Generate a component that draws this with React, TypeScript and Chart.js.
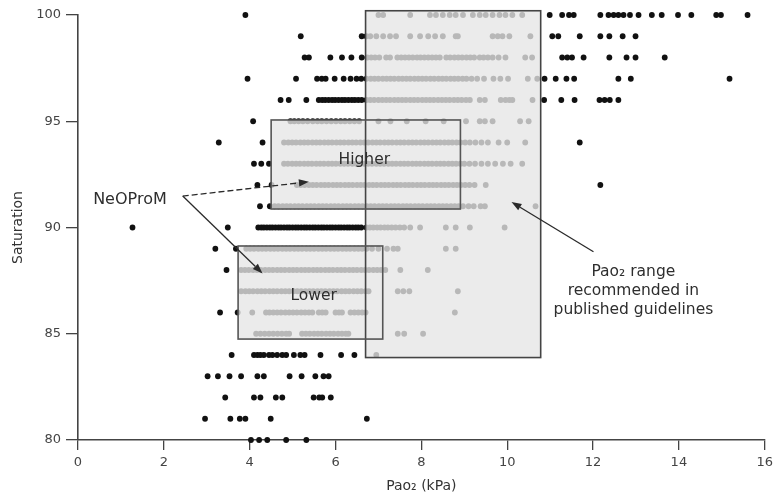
import React, { useEffect, useRef } from "react";
import { Chart, registerables } from "chart.js";

Chart.register(...registerables);

// ---- data: PaO2 (kPa) readings at each saturation level (%) ----
const saturationLevels = [100, 99, 98, 97, 96, 95, 94, 93, 92, 91, 90, 89, 88, 87, 86, 85, 84, 83, 82, 81, 80];

const sat100 = [3.9, 7.0, 7.11, 7.74, 8.2, 8.34, 8.5, 8.66, 8.8, 8.97, 9.2, 9.36, 9.5, 9.66, 9.82, 9.96, 10.12, 10.35, 10.99, 11.28, 11.44, 11.55, 12.17, 12.36, 12.48, 12.59, 12.71, 12.86, 13.06, 13.37, 13.6, 13.98, 14.29, 14.87, 14.98, 15.6];
const sat99 = [5.19, 6.61, 6.72, 6.81, 6.95, 7.11, 7.27, 7.41, 7.74, 7.97, 8.16, 8.32, 8.5, 8.8, 8.85, 9.66, 9.78, 9.89, 10.05, 10.54, 11.05, 11.19, 11.69, 12.17, 12.38, 12.69, 12.99];
const sat98 = [5.28, 5.38, 5.88, 6.15, 6.37, 6.61, 6.74, 6.83, 6.92, 7.02, 7.18, 7.27, 7.44, 7.53, 7.62, 7.71, 7.8, 7.9, 7.98, 8.07, 8.16, 8.25, 8.34, 8.43, 8.58, 8.67, 8.77, 8.86, 8.95, 9.05, 9.14, 9.23, 9.36, 9.45, 9.55, 9.66, 9.8, 9.96, 10.42, 10.58, 11.28, 11.4, 11.51, 11.78, 12.38, 12.78, 12.99, 13.67];
const sat97 = [3.95, 5.08, 5.57, 5.68, 5.77, 5.98, 6.19, 6.35, 6.49, 6.6, 6.72, 6.82, 6.91, 7.0, 7.1, 7.19, 7.28, 7.37, 7.47, 7.56, 7.65, 7.74, 7.84, 7.93, 8.02, 8.11, 8.21, 8.3, 8.4, 8.49, 8.58, 8.68, 8.77, 8.86, 8.96, 9.05, 9.17, 9.3, 9.46, 9.68, 9.84, 10.02, 10.48, 10.7, 10.87, 11.13, 11.38, 11.56, 12.59, 12.88, 15.18];
const sat96 = [4.72, 4.91, 5.32, 5.61, 5.69, 5.76, 5.84, 5.92, 5.99, 6.07, 6.15, 6.22, 6.3, 6.38, 6.45, 6.53, 6.61, 6.72, 6.81, 6.9, 7.0, 7.09, 7.18, 7.27, 7.37, 7.46, 7.55, 7.64, 7.74, 7.83, 7.92, 8.02, 8.11, 8.2, 8.29, 8.39, 8.48, 8.57, 8.66, 8.76, 8.85, 8.94, 9.04, 9.13, 9.36, 9.48, 9.85, 9.96, 10.05, 10.12, 10.59, 10.86, 11.26, 11.57, 12.15, 12.27, 12.39, 12.59];
const sat95 = [4.08, 4.95, 5.04, 5.14, 5.24, 5.35, 5.47, 5.58, 5.68, 5.79, 5.9, 6.01, 6.12, 6.22, 6.33, 6.44, 6.55, 7.0, 7.28, 7.66, 8.1, 8.52, 9.04, 9.36, 9.48, 9.66, 10.3, 10.5];
const sat94 = [3.28, 4.3, 4.8, 4.9, 4.99, 5.08, 5.18, 5.27, 5.36, 5.46, 5.55, 5.64, 5.74, 5.83, 5.92, 6.02, 6.11, 6.2, 6.3, 6.39, 6.48, 6.58, 6.67, 6.76, 6.86, 6.95, 7.04, 7.14, 7.23, 7.32, 7.42, 7.51, 7.6, 7.7, 7.79, 7.88, 7.98, 8.07, 8.16, 8.26, 8.35, 8.44, 8.54, 8.63, 8.72, 8.82, 8.91, 9.02, 9.13, 9.26, 9.4, 9.55, 9.8, 10.0, 10.42, 11.69];
const sat93 = [4.1, 4.27, 4.45, 4.8, 4.89, 4.99, 5.08, 5.17, 5.27, 5.36, 5.45, 5.55, 5.64, 5.73, 5.83, 5.92, 6.01, 6.11, 6.2, 6.29, 6.39, 6.48, 6.57, 6.67, 6.76, 6.85, 6.95, 7.04, 7.13, 7.23, 7.32, 7.41, 7.51, 7.6, 7.69, 7.79, 7.88, 7.97, 8.07, 8.16, 8.25, 8.35, 8.44, 8.53, 8.63, 8.72, 8.81, 8.91, 9.0, 9.12, 9.25, 9.4, 9.55, 9.72, 9.9, 10.08, 10.35];
const sat92 = [4.18, 4.51, 5.1, 5.19, 5.28, 5.38, 5.47, 5.56, 5.66, 5.75, 5.84, 5.94, 6.03, 6.12, 6.22, 6.31, 6.4, 6.5, 6.59, 6.68, 6.78, 6.87, 6.96, 7.06, 7.15, 7.24, 7.34, 7.43, 7.52, 7.62, 7.71, 7.8, 7.9, 7.99, 8.08, 8.18, 8.27, 8.36, 8.46, 8.55, 8.64, 8.74, 8.83, 8.92, 9.02, 9.12, 9.24, 9.5, 12.17];
const sat91 = [4.24, 4.47, 4.58, 4.67, 4.77, 4.86, 4.95, 5.05, 5.14, 5.23, 5.33, 5.42, 5.51, 5.61, 5.7, 5.79, 5.89, 5.98, 6.07, 6.17, 6.26, 6.35, 6.45, 6.54, 6.63, 6.73, 6.82, 6.91, 7.01, 7.1, 7.19, 7.29, 7.38, 7.47, 7.57, 7.66, 7.75, 7.85, 7.94, 8.03, 8.13, 8.22, 8.31, 8.41, 8.5, 8.59, 8.69, 8.78, 8.87, 8.97, 9.1, 9.22, 9.38, 9.48, 10.66];
const sat90 = [1.27, 3.49, 4.2, 4.27, 4.33, 4.4, 4.47, 4.53, 4.6, 4.67, 4.73, 4.8, 4.87, 4.93, 5.0, 5.07, 5.13, 5.2, 5.27, 5.33, 5.4, 5.47, 5.53, 5.6, 5.67, 5.73, 5.8, 5.87, 5.93, 6.0, 6.07, 6.13, 6.2, 6.27, 6.33, 6.4, 6.47, 6.53, 6.6, 6.72, 6.8, 6.88, 6.97, 7.05, 7.14, 7.22, 7.31, 7.4, 7.5, 7.6, 7.74, 7.97, 8.57, 8.8, 9.13, 9.94];
const sat89 = [3.2, 3.68, 3.92, 4.01, 4.1, 4.2, 4.29, 4.38, 4.48, 4.57, 4.66, 4.76, 4.85, 4.94, 5.04, 5.13, 5.22, 5.32, 5.41, 5.5, 5.6, 5.69, 5.78, 5.88, 5.97, 6.06, 6.16, 6.25, 6.34, 6.44, 6.53, 6.62, 6.72, 6.85, 7.0, 7.2, 7.35, 7.45, 8.57, 8.8];
const sat88 = [3.46, 3.8, 3.89, 3.98, 4.08, 4.17, 4.26, 4.36, 4.45, 4.54, 4.64, 4.73, 4.82, 4.92, 5.01, 5.1, 5.2, 5.29, 5.38, 5.48, 5.57, 5.66, 5.76, 5.85, 5.94, 6.04, 6.13, 6.22, 6.32, 6.41, 6.5, 6.6, 6.69, 6.78, 6.88, 6.97, 7.06, 7.16, 7.51, 8.15];
const sat87 = [3.8, 3.9, 3.99, 4.08, 4.18, 4.27, 4.36, 4.46, 4.55, 4.64, 4.74, 4.83, 4.92, 5.02, 5.11, 5.2, 5.3, 5.39, 5.48, 5.58, 5.67, 5.76, 5.86, 5.95, 6.04, 6.14, 6.23, 6.32, 6.42, 6.51, 6.6, 6.7, 6.77, 7.45, 7.58, 7.72, 8.85];
const sat86 = [3.31, 3.72, 4.06, 4.38, 4.46, 4.55, 4.64, 4.73, 4.83, 4.92, 5.01, 5.1, 5.2, 5.29, 5.38, 5.46, 5.61, 5.69, 5.77, 6.0, 6.08, 6.15, 6.35, 6.44, 6.53, 6.62, 6.7, 8.78];
const sat85 = [4.15, 4.25, 4.35, 4.45, 4.55, 4.65, 4.75, 4.85, 4.92, 5.22, 5.31, 5.4, 5.5, 5.59, 5.68, 5.78, 5.87, 5.96, 6.06, 6.15, 6.24, 6.3, 7.45, 7.6, 8.04];
const sat84 = [3.58, 4.1, 4.18, 4.25, 4.33, 4.45, 4.53, 4.64, 4.76, 4.85, 5.03, 5.18, 5.28, 5.65, 6.13, 6.44, 6.95];
const sat83 = [3.02, 3.26, 3.53, 3.8, 4.18, 4.33, 4.93, 5.21, 5.53, 5.72, 5.84];
const sat82 = [3.43, 4.1, 4.25, 4.61, 4.76, 5.49, 5.62, 5.69, 5.89];
const sat81 = [2.96, 3.55, 3.77, 3.9, 4.49, 6.73];
const sat80 = [4.03, 4.22, 4.41, 4.85, 5.32];

const pao2ByLevel = [sat100, sat99, sat98, sat97, sat96, sat95, sat94, sat93, sat92, sat91, sat90, sat89, sat88, sat87, sat86, sat85, sat84, sat83, sat82, sat81, sat80];

// axis ticks
const xTickValues = [0, 2, 4, 6, 8, 10, 12, 14, 16];
const yTickValues = [80, 85, 90, 95, 100];

// target ranges (PaO2 kPa, saturation %)
const guidelinePao2 = [6.7, 10.78];
const guidelineSat = [83.88, 100.2];
const higherPao2 = [4.5, 8.91];
const higherSat = [90.87, 95.06];
const lowerPao2 = [3.73, 7.1];
const lowerSat = [84.75, 89.13];

const FONT = "'DejaVu Sans', 'Liberation Sans', Arial, sans-serif";

function arrow(ctx: CanvasRenderingContext2D, x1: number, y1: number, x2: number, y2: number, dash: number[] | null) {
  const ang = Math.atan2(y2 - y1, x2 - x1);
  const hl = 10, hw = 3.6;
  const bx = x2 - hl * Math.cos(ang), by = y2 - hl * Math.sin(ang);
  ctx.save();
  ctx.strokeStyle = "#2a2a2a";
  ctx.fillStyle = "#2a2a2a";
  ctx.lineWidth = 1.3;
  if (dash) ctx.setLineDash(dash);
  ctx.beginPath();
  ctx.moveTo(x1, y1);
  ctx.lineTo(bx, by);
  ctx.stroke();
  ctx.setLineDash([]);
  ctx.beginPath();
  ctx.moveTo(x2, y2);
  ctx.lineTo(bx - hw * Math.sin(ang), by + hw * Math.cos(ang));
  ctx.lineTo(bx + hw * Math.sin(ang), by - hw * Math.cos(ang));
  ctx.closePath();
  ctx.fill();
  ctx.restore();
}

const overlayPlugin = {
  id: "rangeOverlays",
  afterDatasetsDraw(chart: any) {
    const { ctx } = chart;
    const xs = chart.scales.x;
    const ys = chart.scales.y;
    const px = (v: number) => xs.getPixelForValue(v);
    const py = (v: number) => ys.getPixelForValue(v);
    const boxes = [
      [guidelinePao2, guidelineSat],
      [higherPao2, higherSat],
      [lowerPao2, lowerSat],
    ];
    ctx.save();
    ctx.beginPath();
    boxes.forEach(([bx, by]) => {
      const l = px(bx[0]), r = px(bx[1]), t = py(by[1]), b = py(by[0]);
      ctx.rect(l, t, r - l, b - t);
    });
    ctx.fillStyle = "rgba(229,229,229,0.79)";
    ctx.fill("nonzero");
    ctx.lineWidth = 1.6;
    boxes.forEach(([bx, by], i) => {
      const l = px(bx[0]), r = px(bx[1]), t = py(by[1]), b = py(by[0]);
      ctx.strokeStyle = i === 0 ? "#444" : "#555";
      ctx.strokeRect(l, t, r - l, b - t);
    });

    // labels
    ctx.fillStyle = "#2e2e2e";
    ctx.textAlign = "center";
    ctx.textBaseline = "middle";
    ctx.font = `15.5px ${FONT}`;
    ctx.fillText("Higher", px(6.67), py(93.2));
    ctx.fillText("Lower", px(5.49), py(86.8));
    ctx.font = `16px ${FONT}`;
    ctx.fillText("NeOProM", px(1.21), py(91.3));
    ctx.font = `15.5px ${FONT}`;
    ctx.fillText("Pao\u2082 range", px(12.94), py(87.9));
    ctx.fillText("recommended in", px(12.94), py(87.02));
    ctx.fillText("published guidelines", px(12.94), py(86.1));

    // arrows
    arrow(ctx, px(2.44), py(91.48), px(5.38), py(92.15), [6, 3]);
    arrow(ctx, px(2.44), py(91.48), px(4.3), py(87.84), null);
    arrow(ctx, px(12.01), py(88.86), px(10.1), py(91.2), null);
    ctx.restore();
  },
};

export default function App() {
  const canvasRef = useRef<HTMLCanvasElement | null>(null);

  useEffect(() => {
    const points: { x: number; y: number }[] = [];
    saturationLevels.forEach((s, i) => {
      pao2ByLevel[i].forEach((p) => points.push({ x: p, y: s }));
    });

    const tickFont = { family: FONT, size: 13 };
    const chart = new Chart(canvasRef.current as HTMLCanvasElement, {
      type: "scatter",
      data: {
        datasets: [
          {
            data: points,
            pointRadius: 2.9,
            pointBackgroundColor: "#111",
            pointBorderWidth: 0,
            clip: false as any,
          },
        ],
      },
      options: {
        responsive: false,
        animation: false,
        events: [],
        layout: { padding: { top: 15, right: 9, left: 0, bottom: 0 } },
        plugins: { legend: { display: false }, tooltip: { enabled: false } },
        scales: {
          x: {
            type: "linear",
            min: 0,
            max: 16,
            afterBuildTicks: (s: any) => {
              s.ticks = xTickValues.map((v) => ({ value: v }));
            },
            afterFit: (s: any) => {
              s.height = 53;
            },
            ticks: { color: "#444", font: tickFont, padding: 5 },
            grid: { drawOnChartArea: false, drawTicks: true, tickLength: 10, color: "#444", lineWidth: 1.3 },
            border: { display: true, color: "#444", width: 1.6 },
            title: {
              display: true,
              text: "Pao\u2082 (kPa)",
              color: "#333",
              font: { family: FONT, size: 14 },
              padding: { top: 0, bottom: -2 },
            },
          },
          y: {
            type: "linear",
            min: 80,
            max: 100,
            afterBuildTicks: (s: any) => {
              s.ticks = yTickValues.map((v) => ({ value: v }));
            },
            afterFit: (s: any) => {
              s.width = 78;
            },
            ticks: { color: "#444", font: tickFont, padding: 5 },
            grid: { drawOnChartArea: false, drawTicks: true, tickLength: 12, color: "#444", lineWidth: 1.3 },
            border: { display: true, color: "#444", width: 1.6 },
            title: {
              display: true,
              text: "Saturation",
              color: "#333",
              font: { family: FONT, size: 14 },
              padding: { top: 10, bottom: 0 },
            },
          },
        },
      },
      plugins: [overlayPlugin],
    });
    return () => chart.destroy();
  }, []);

  return (
    <div style={{ position: "absolute", left: 0, top: 0, width: 778, height: 493, background: "#fff" }}>
      <canvas ref={canvasRef} width={778} height={493} />
    </div>
  );
}
